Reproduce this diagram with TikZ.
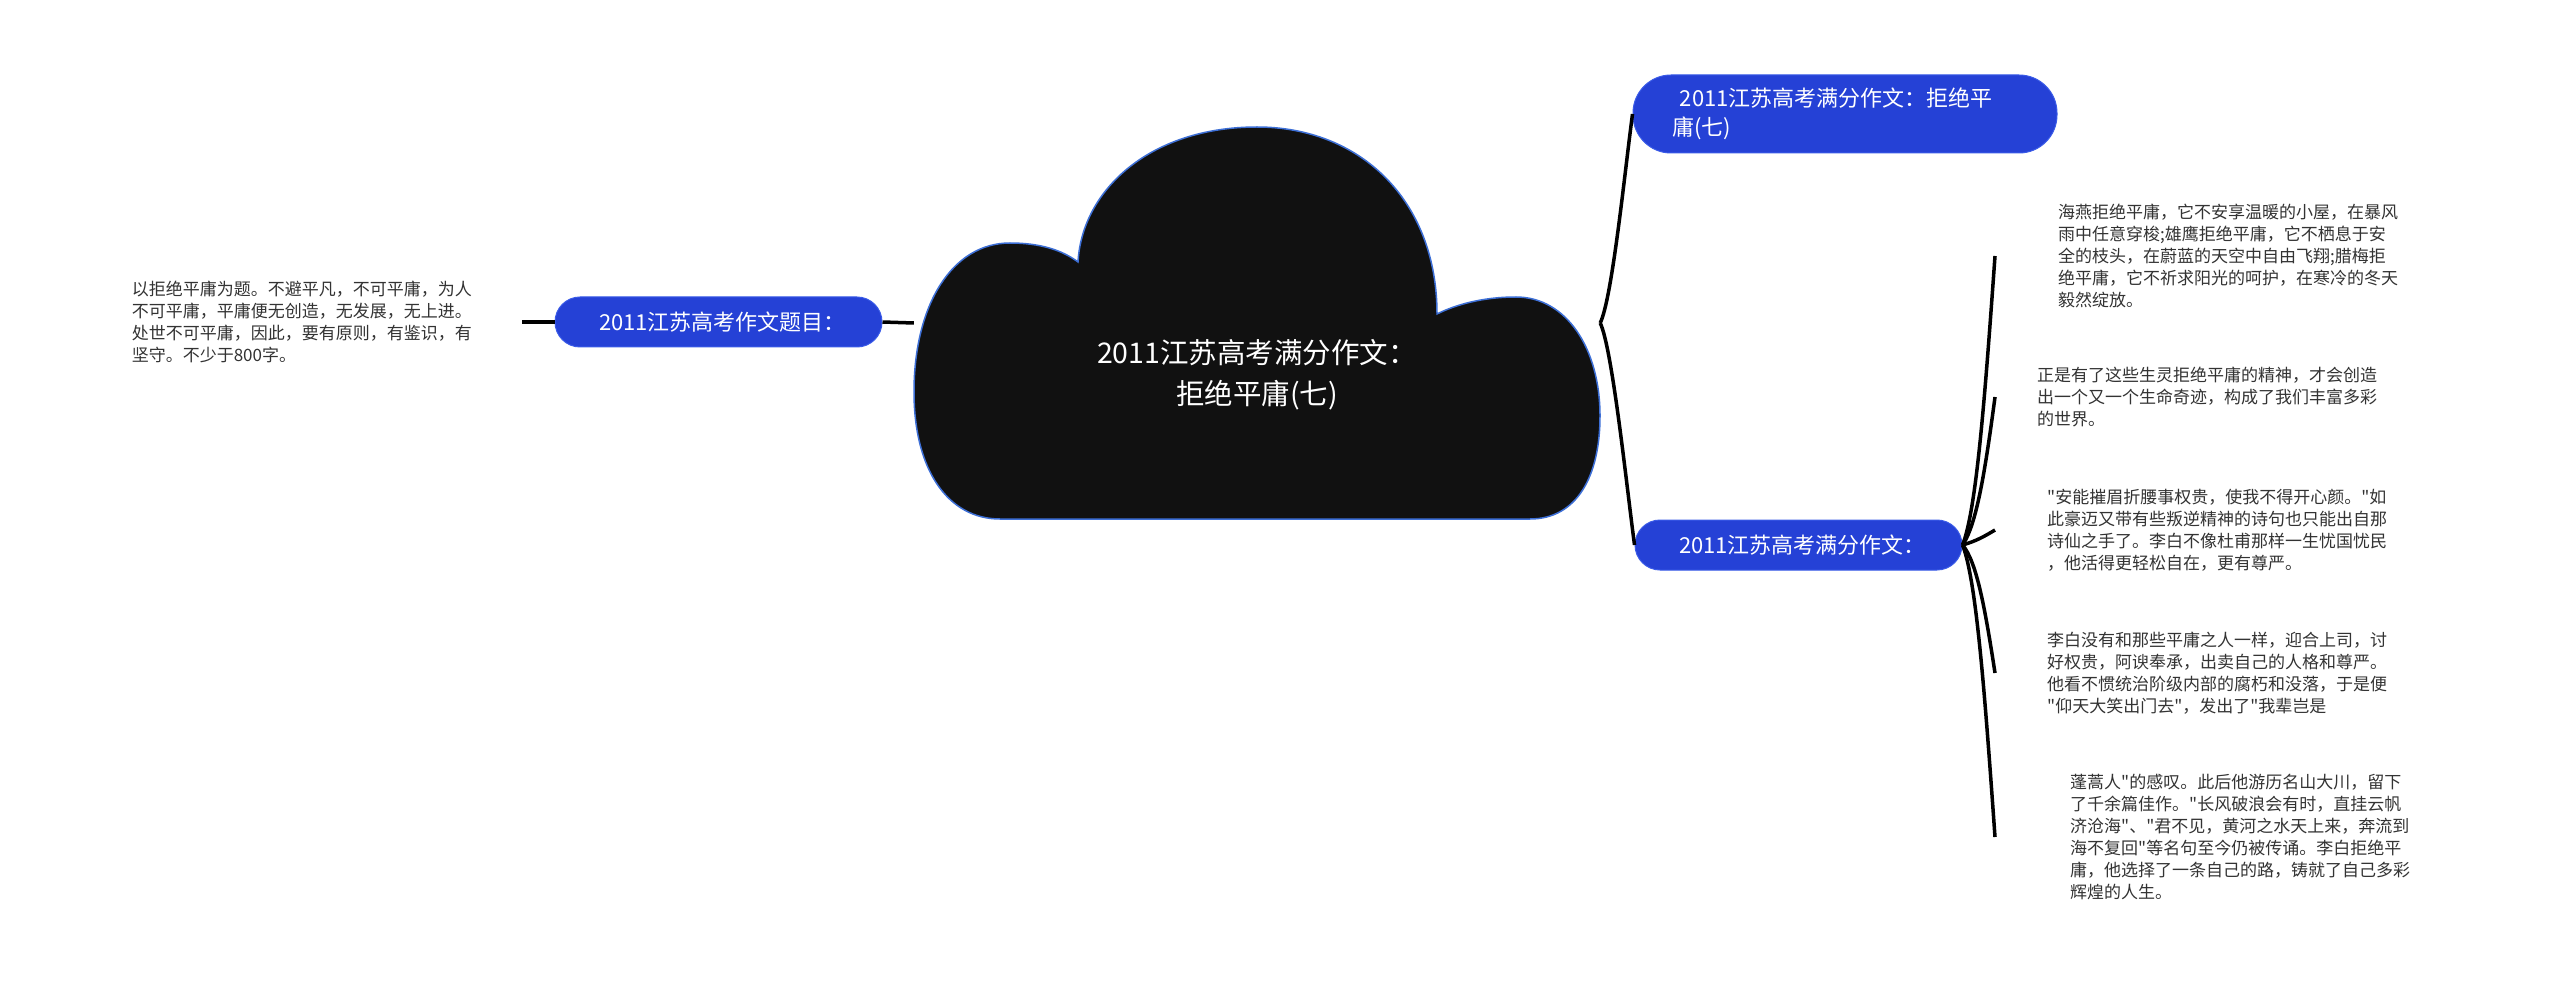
\documentclass[tikz,border=0pt]{standalone}
\usepackage{fontspec}
\newfontfamily\cjk{Noto Sans CJK SC}
\definecolor{pillblue}{HTML}{2541D6}
\definecolor{pilledge}{HTML}{3A5BE8}
\definecolor{cloudfill}{HTML}{111111}
\definecolor{cloudedge}{HTML}{3D6FD6}
\definecolor{txtgray}{HTML}{333333}
\begin{document}
\begin{tikzpicture}[x=1pt,y=-1pt,
 pill/.style={fill=pillblue, draw=pilledge, line width=1pt, text=white,
   font=\cjk\fontsize{22}{29}\selectfont, rounded corners=25pt, inner sep=0pt},
 txt/.style={text=txtgray, font=\cjk\fontsize{17}{22}\selectfont, align=left, inner ysep=0pt},
 link/.style={draw=black, line width=3.5pt},
]
\useasboundingbox[fill=white] (0,0) rectangle (2560,984);

% cloud
\path[fill=cloudfill, draw=cloudedge, line width=1.5pt]
 (1000,519) -- (1530,519)
 .. controls (1577,519) and (1600,476) .. (1600,416)
 .. controls (1600,348) and (1566,297) .. (1516,297)
 .. controls (1482,297) and (1455,305) .. (1437,314)
 .. controls (1437,200) and (1360,127) .. (1257,127)
 .. controls (1150,127) and (1082,190) .. (1078,262)
 .. controls (1062,250) and (1040,243) .. (1010,243)
 .. controls (952,243) and (914,305) .. (914,392)
 .. controls (914,470) and (948,519) .. (1000,519) -- cycle;

\node[inner sep=0pt, minimum width=686pt, minimum height=392pt] (root) at (1257,323) {};
\node[text=white, font=\cjk\fontsize{28.5}{41}\selectfont, align=center] (title) at (1257,375)
 {2011江苏高考满分作文：\\拒绝平庸(七)};

% left branch
\node[pill, minimum width=327pt, minimum height=50pt] (p0) at (718.5,322) {\hspace{8pt}2011江苏高考作文题目：};
\node[txt, anchor=east, inner xsep=50pt] (t0) at (522,322)
 {以拒绝平庸为题。不避平凡，不可平庸，为人\\不可平庸，平庸便无创造，无发展，无上进。\\处世不可平庸，因此，要有原则，有鉴识，有\\坚守。不少于800字。};

% right pills
\node[pill, minimum width=424pt, minimum height=78pt, text width=345pt, align=left,
  rounded corners=38pt] (p1) at (1845,114) {\ 2011江苏高考满分作文：拒绝平\\庸(七)};
\node[pill, minimum width=327pt, minimum height=50pt] (p2) at (1798.5,545) {\hspace{8pt}2011江苏高考满分作文：};

% right texts
\node[txt, anchor=west, inner xsep=63pt] (t1) at (1995,256)
 {海燕拒绝平庸，它不安享温暖的小屋，在暴风\\雨中任意穿梭;雄鹰拒绝平庸，它不栖息于安\\全的枝头，在蔚蓝的天空中自由飞翔;腊梅拒\\绝平庸，它不祈求阳光的呵护，在寒冷的冬天\\毅然绽放。};
\node[txt, anchor=west, inner xsep=42pt] (t2) at (1995,397)
 {正是有了这些生灵拒绝平庸的精神，才会创造\\出一个又一个生命奇迹，构成了我们丰富多彩\\的世界。};
\node[txt, anchor=west, inner xsep=52pt] (t3) at (1995,530)
 {"安能摧眉折腰事权贵，使我不得开心颜。"如\\此豪迈又带有些叛逆精神的诗句也只能出自那\\诗仙之手了。李白不像杜甫那样一生忧国忧民\\，他活得更轻松自在，更有尊严。};
\node[txt, anchor=west, inner xsep=52pt] (t4) at (1995,673)
 {李白没有和那些平庸之人一样，迎合上司，讨\\好权贵，阿谀奉承，出卖自己的人格和尊严。\\他看不惯统治阶级内部的腐朽和没落，于是便\\"仰天大笑出门去"，发出了"我辈岂是};
\node[txt, anchor=west, inner xsep=75pt] (t5) at (1995,837)
 {蓬蒿人"的感叹。此后他游历名山大川，留下\\了千余篇佳作。"长风破浪会有时，直挂云帆\\济沧海"、"君不见，黄河之水天上来，奔流到\\海不复回"等名句至今仍被传诵。李白拒绝平\\庸，他选择了一条自己的路，铸就了自己多彩\\辉煌的人生。};

% connectors
\draw[link] (root.west) -- (p0.east);
\draw[link] (p0.west) -- (t0.east);
\draw[link] (root.east) .. controls +(12,-25) and +(-8,60) .. (p1.west);
\draw[link] (root.east) .. controls +(12,25) and +(-8,-60) .. (p2.west);
\draw[link] (p2.east) .. controls +(14,-35) and +(-10,140) .. (t1.west);
\draw[link] (p2.east) .. controls +(14,-20) and +(-10,75) .. (t2.west);
\draw[link] (p2.east) .. controls +(14,-4) and +(-10,6) .. (t3.west);
\draw[link] (p2.east) .. controls +(14,16) and +(-10,-65) .. (t4.west);
\draw[link] (p2.east) .. controls +(14,35) and +(-10,-140) .. (t5.west);
\end{tikzpicture}
\end{document}
